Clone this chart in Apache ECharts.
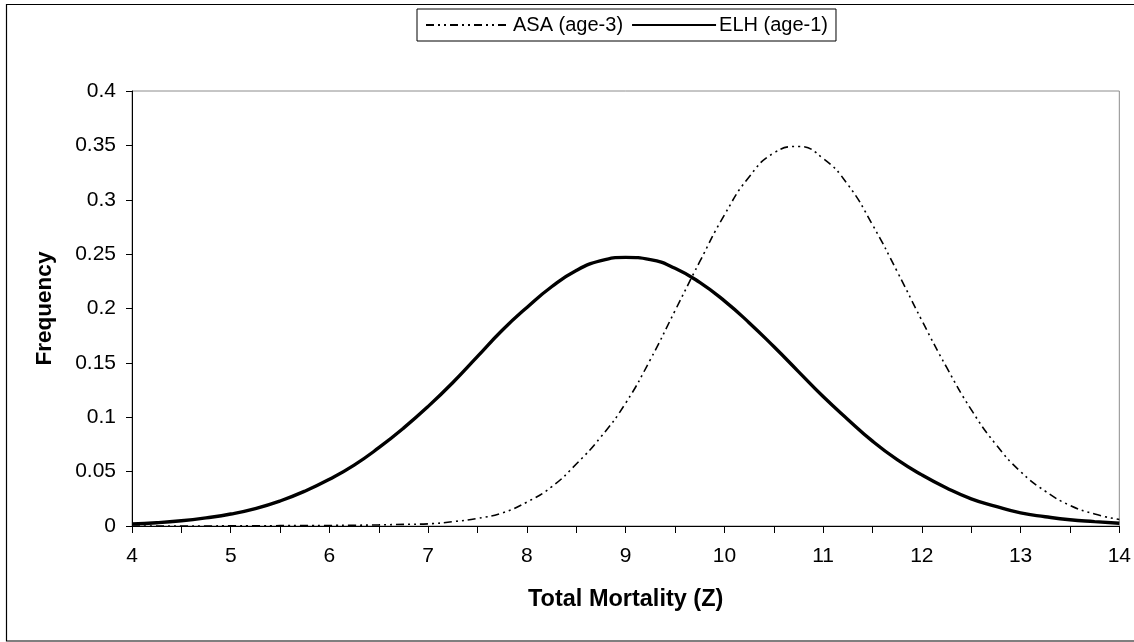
<!DOCTYPE html>
<html>
<head>
<meta charset="utf-8">
<script src="https://cdn.jsdelivr.net/npm/echarts@6/dist/echarts.min.js"></script>
<style>
html,body{margin:0;padding:0;background:#fff;}
#chart{width:1134px;height:642px;}
</style>
</head>
<body>
<div id="chart"></div>
<script>
// Data
var zValues = [4,4.25,4.5,4.75,5,5.25,5.5,5.75,6,6.25,6.5,6.75,7,7.25,7.5,7.75,8,8.25,8.5,8.75,9,9.25,9.5,9.75,10,10.25,10.5,10.75,11,11.25,11.5,11.75,12,12.25,12.5,12.75,13,13.25,13.5,13.75,14];
var asaAge3 = [0,0,0,0,0.0002,0.0002,0.0003,0.0004,0.0005,0.0007,0.001,0.0015,0.002,0.004,0.007,0.012,0.022,0.036,0.057,0.082,0.113,0.153,0.198,0.243,0.286,0.321,0.343,0.349,0.338,0.314,0.277,0.234,0.189,0.146,0.107,0.075,0.050,0.032,0.019,0.011,0.006];
var elhAge1 = [0.002,0.003,0.0048,0.0075,0.011,0.016,0.023,0.032,0.043,0.056,0.072,0.09,0.110,0.132,0.156,0.18,0.201,0.22,0.235,0.244,0.247,0.245,0.237,0.224,0.207,0.187,0.165,0.142,0.119,0.098,0.078,0.061,0.047,0.035,0.025,0.018,0.012,0.0085,0.0057,0.004,0.0025];
var seriesNames = ['ASA (age-3)','ELH (age-1)'];
var xAxisTitle = 'Total Mortality (Z)';
var yAxisTitle = 'Frequency';

function pairs(xs, ys){ return xs.map(function(x,i){ return [x, ys[i]]; }); }

var chart = echarts.init(document.getElementById('chart'), null, {renderer:'canvas'});
var FONT = '"Liberation Sans", Arial, sans-serif';
chart.setOption({
  animation:false,
  backgroundColor:'#fff',
  textStyle:{fontFamily:FONT,color:'#000'},
  graphic:[{
    type:'rect',
    shape:{x:6.5,y:4.5,width:1140,height:636.5},
    style:{fill:'none',stroke:'#000',lineWidth:1.2},
    silent:true, z:-1
  }],
  legend:{
    left:417, top:9,
    padding:[6,8,6,8],
    itemWidth:84, itemHeight:14, itemGap:8,
    borderColor:'#000', borderWidth:1,
    itemStyle:{color:'transparent',borderWidth:0,opacity:0},
    textStyle:{fontFamily:FONT,fontSize:20,color:'#000',padding:[0,0,0,-2]},
    data:seriesNames
  },
  grid:{left:132,right:12,top:91,bottom:116,show:true,borderColor:'#8c8c8c',borderWidth:1,backgroundColor:'transparent'},
  xAxis:{
    type:'value', min:4, max:14, interval:0.5,
    name:xAxisTitle, nameLocation:'middle', nameGap:62,
    nameTextStyle:{fontFamily:FONT,fontSize:23.5,fontWeight:'bold',color:'#000'},
    axisLine:{show:true,onZero:false,lineStyle:{color:'#000',width:1}},
    axisTick:{show:true,inside:false,length:7,lineStyle:{color:'#000'}},
    axisLabel:{fontFamily:FONT,fontSize:21,color:'#000',margin:20,
      formatter:function(v){ return (Math.abs(v - Math.round(v))<1e-9) ? String(Math.round(v)) : ''; }},
    splitLine:{show:false}
  },
  yAxis:{
    type:'value', min:0, max:0.4, interval:0.05,
    name:yAxisTitle, nameLocation:'middle', nameGap:76, nameRotate:90,
    nameTextStyle:{fontFamily:FONT,fontSize:22.5,fontWeight:'bold',color:'#000'},
    axisLine:{show:true,lineStyle:{color:'#000',width:1}},
    axisTick:{show:true,inside:false,length:6,lineStyle:{color:'#000'}},
    axisLabel:{fontFamily:FONT,fontSize:21,color:'#000',margin:16,
      formatter:function(v){ return String(Math.round(v*100)/100); }},
    splitLine:{show:false}
  },
  series:[
    {name:seriesNames[0], type:'line', data:pairs(zValues, asaAge3), smooth:true, showSymbol:false, symbol:'none',
     lineStyle:{color:'#000',width:1.6,type:[8,4,2,4,2,4]}, itemStyle:{color:'#000'}, z:3},
    {name:seriesNames[1], type:'line', data:pairs(zValues, elhAge1), smooth:true, showSymbol:false, symbol:'none',
     lineStyle:{color:'#000',width:3.4,type:'solid'}, itemStyle:{color:'#000'}, z:4}
  ]
});
</script>
</body>
</html>
